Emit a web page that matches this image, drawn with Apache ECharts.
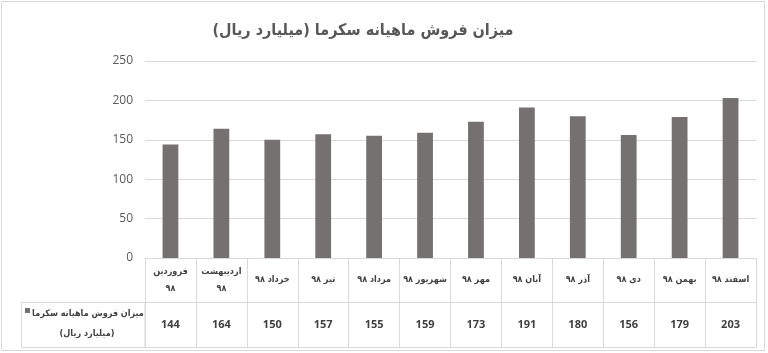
<!DOCTYPE html>
<html>
<head>
    <meta charset="utf-8">
    <script src="https://cdn.jsdelivr.net/npm/echarts@6/dist/echarts.min.js"></script>
</head>
<body style="margin:0;">
    <div id="main" style="width:768px;height:353px;"></div>
    <script type="text/javascript">
        // data
        var months = ['فروردین\n۹۸', 'اردیبهشت\n۹۸', 'خرداد ۹۸', 'تیر ۹۸', 'مرداد ۹۸', 'شهریور ۹۸',
                      'مهر ۹۸', 'آبان ۹۸', 'آذر ۹۸', 'دی ۹۸', 'بهمن ۹۸', 'اسفند ۹۸'];
        var sales = [144, 164, 150, 157, 155, 159, 173, 191, 180, 156, 179, 203];
        var yTicks = [0, 50, 100, 150, 200, 250];
        var seriesName = 'میزان فروش ماهیانه سکرما';
        var seriesUnit = '(میلیارد ریال)';
        var titleText = 'میزان فروش ماهیانه سکرما (میلیارد ریال)';

        var RLM = '\u200F';
        var fa = '"DejaVu Sans Condensed", "DejaVu Sans", sans-serif';
        var lineCol = '#d9d9d9';
        var barCol = '#767171';

        var chart = echarts.init(document.getElementById('main'));
        var option = {
            animation: false,
            grid: { left: 145, right: 12, top: 61, bottom: 95 },
            xAxis: [{
                type: 'category',
                data: months,
                axisLine: { lineStyle: { color: lineCol } },
                axisTick: { show: true, length: 89, interval: 0, lineStyle: { color: lineCol } },
                axisLabel: {
                    interval: 0, margin: 22, verticalAlign: 'middle', lineHeight: 17,
                    fontFamily: fa, fontSize: 9, fontWeight: 'bold', color: '#404040'
                }
            }, {
                type: 'category',
                position: 'bottom',
                offset: 44,
                data: sales.map(String),
                axisLine: { lineStyle: { color: lineCol } },
                axisTick: { show: false },
                axisLabel: {
                    interval: 0, margin: 23, verticalAlign: 'middle',
                    fontFamily: 'Open Sans', fontSize: 11, fontWeight: 'bold', color: '#404040'
                }
            }, {
                type: 'category',
                position: 'bottom',
                offset: 89,
                data: months,
                axisLine: { lineStyle: { color: lineCol } },
                axisTick: { show: false },
                axisLabel: { show: false }
            }],
            yAxis: {
                type: 'value',
                min: yTicks[0],
                max: yTicks[yTicks.length - 1],
                interval: yTicks[1] - yTicks[0],
                axisLine: { show: false },
                axisTick: { show: false },
                axisLabel: { margin: 12, color: '#595959', fontSize: 12, fontFamily: 'Open Sans' },
                splitLine: { lineStyle: { color: lineCol } }
            },
            series: [{
                name: seriesName,
                type: 'bar',
                data: sales,
                barWidth: '31%',
                itemStyle: { color: barCol }
            }],
            graphic: [
                // chart border
                { type: 'rect', shape: { x: 1.5, y: 1.5, width: 763, height: 349 },
                  style: { fill: 'none', stroke: lineCol, lineWidth: 1 } },
                // title
                { type: 'text', x: 363, y: 31,
                  style: { text: RLM + titleText + RLM, fill: '#595959', font: 'bold 16px ' + fa,
                           textAlign: 'center', textVerticalAlign: 'middle' } },
                // data table legend cell
                { type: 'rect', shape: { x: 21.5, y: 302.5, width: 123.5, height: 45 },
                  style: { fill: 'none', stroke: lineCol, lineWidth: 1 } },
                { type: 'rect', shape: { x: 25, y: 308, width: 5, height: 5 },
                  style: { fill: barCol } },
                { type: 'text', x: 88, y: 314,
                  style: { text: RLM + seriesName + RLM, fill: '#404040', font: 'bold 9px ' + fa,
                           textAlign: 'center', textVerticalAlign: 'middle' } },
                { type: 'text', x: 87, y: 334,
                  style: { text: RLM + seriesUnit + RLM, fill: '#404040', font: 'bold 9px ' + fa,
                           textAlign: 'center', textVerticalAlign: 'middle' } }
            ]
        };
        chart.setOption(option);
    </script>
</body>
</html>
